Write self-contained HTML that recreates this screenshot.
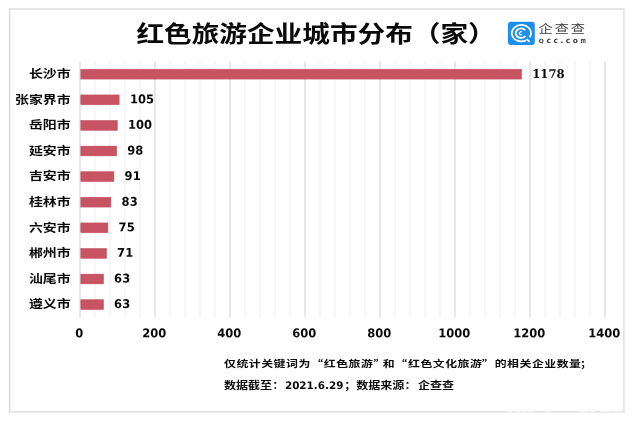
<!DOCTYPE html>
<html lang="zh-CN">
<head>
<meta charset="utf-8">
<title>红色旅游企业城市分布（家）</title>
<style>
html,body{margin:0;padding:0;background:#fff;}
body{width:635px;height:423px;overflow:hidden;position:relative;}
svg{position:absolute;left:0;top:0;display:block;}
.t{font-family:"Noto Sans CJK SC", "WenQuanYi Zen Hei", sans-serif;font-weight:700;fill:#0a0a0a;}
.n{font-family:"DejaVu Sans", "Liberation Sans", sans-serif;font-weight:700;fill:#0a0a0a;text-rendering:geometricPrecision;}
</style>
</head>
<body>
<svg width="635" height="423" viewBox="0 0 635 423">
<rect x="0" y="0" width="635" height="423" fill="#ffffff"/>
<g fill="none"><path d="M8.85 9 H624.8" stroke="#e6e6e6" stroke-width="2"/><path d="M8.85 411.8 H624.8" stroke="#e6e6e6" stroke-width="2"/><path d="M623.8 8 V412.8" stroke="#e4e4e4" stroke-width="1.8"/><path d="M9.6 8 V412.8" stroke="#dadada" stroke-width="1.5"/></g>
<g fill="#ffffff" fill-opacity="0.7"><rect x="508" y="410.3" width="4" height="1.5"/><rect x="516" y="410.3" width="4" height="1.5"/><rect x="522" y="410.3" width="4" height="1.5"/><rect x="528" y="410.3" width="5" height="1.5"/><rect x="546" y="410.3" width="4" height="1.5"/><rect x="580" y="410.3" width="8" height="1.5"/><rect x="591" y="410.3" width="4" height="1.5"/><rect x="600" y="410.3" width="9" height="1.5"/><rect x="614" y="410.3" width="4" height="1.5"/></g>
<g><line x1="80.00" y1="61.4" x2="80.00" y2="317.4" stroke="#dbdbdb" stroke-width="1.3"/><line x1="95.00" y1="61.4" x2="95.00" y2="317.4" stroke="#f1f1f1" stroke-width="1.1"/><line x1="110.00" y1="61.4" x2="110.00" y2="317.4" stroke="#f1f1f1" stroke-width="1.1"/><line x1="125.00" y1="61.4" x2="125.00" y2="317.4" stroke="#f1f1f1" stroke-width="1.1"/><line x1="140.00" y1="61.4" x2="140.00" y2="317.4" stroke="#f1f1f1" stroke-width="1.1"/><line x1="155.00" y1="61.4" x2="155.00" y2="317.4" stroke="#dbdbdb" stroke-width="1.3"/><line x1="170.00" y1="61.4" x2="170.00" y2="317.4" stroke="#f1f1f1" stroke-width="1.1"/><line x1="185.00" y1="61.4" x2="185.00" y2="317.4" stroke="#f1f1f1" stroke-width="1.1"/><line x1="200.00" y1="61.4" x2="200.00" y2="317.4" stroke="#f1f1f1" stroke-width="1.1"/><line x1="215.00" y1="61.4" x2="215.00" y2="317.4" stroke="#f1f1f1" stroke-width="1.1"/><line x1="230.00" y1="61.4" x2="230.00" y2="317.4" stroke="#dbdbdb" stroke-width="1.3"/><line x1="245.00" y1="61.4" x2="245.00" y2="317.4" stroke="#f1f1f1" stroke-width="1.1"/><line x1="260.00" y1="61.4" x2="260.00" y2="317.4" stroke="#f1f1f1" stroke-width="1.1"/><line x1="275.00" y1="61.4" x2="275.00" y2="317.4" stroke="#f1f1f1" stroke-width="1.1"/><line x1="290.00" y1="61.4" x2="290.00" y2="317.4" stroke="#f1f1f1" stroke-width="1.1"/><line x1="305.00" y1="61.4" x2="305.00" y2="317.4" stroke="#dbdbdb" stroke-width="1.3"/><line x1="320.00" y1="61.4" x2="320.00" y2="317.4" stroke="#f1f1f1" stroke-width="1.1"/><line x1="335.00" y1="61.4" x2="335.00" y2="317.4" stroke="#f1f1f1" stroke-width="1.1"/><line x1="350.00" y1="61.4" x2="350.00" y2="317.4" stroke="#f1f1f1" stroke-width="1.1"/><line x1="365.00" y1="61.4" x2="365.00" y2="317.4" stroke="#f1f1f1" stroke-width="1.1"/><line x1="380.00" y1="61.4" x2="380.00" y2="317.4" stroke="#dbdbdb" stroke-width="1.3"/><line x1="395.00" y1="61.4" x2="395.00" y2="317.4" stroke="#f1f1f1" stroke-width="1.1"/><line x1="410.00" y1="61.4" x2="410.00" y2="317.4" stroke="#f1f1f1" stroke-width="1.1"/><line x1="425.00" y1="61.4" x2="425.00" y2="317.4" stroke="#f1f1f1" stroke-width="1.1"/><line x1="440.00" y1="61.4" x2="440.00" y2="317.4" stroke="#f1f1f1" stroke-width="1.1"/><line x1="455.00" y1="61.4" x2="455.00" y2="317.4" stroke="#dbdbdb" stroke-width="1.3"/><line x1="470.00" y1="61.4" x2="470.00" y2="317.4" stroke="#f1f1f1" stroke-width="1.1"/><line x1="485.00" y1="61.4" x2="485.00" y2="317.4" stroke="#f1f1f1" stroke-width="1.1"/><line x1="500.00" y1="61.4" x2="500.00" y2="317.4" stroke="#f1f1f1" stroke-width="1.1"/><line x1="515.00" y1="61.4" x2="515.00" y2="317.4" stroke="#f1f1f1" stroke-width="1.1"/><line x1="530.00" y1="61.4" x2="530.00" y2="317.4" stroke="#dbdbdb" stroke-width="1.3"/><line x1="545.00" y1="61.4" x2="545.00" y2="317.4" stroke="#f1f1f1" stroke-width="1.1"/><line x1="560.00" y1="61.4" x2="560.00" y2="317.4" stroke="#f1f1f1" stroke-width="1.1"/><line x1="575.00" y1="61.4" x2="575.00" y2="317.4" stroke="#f1f1f1" stroke-width="1.1"/><line x1="590.00" y1="61.4" x2="590.00" y2="317.4" stroke="#f1f1f1" stroke-width="1.1"/><line x1="605.00" y1="61.4" x2="605.00" y2="317.4" stroke="#dbdbdb" stroke-width="1.3"/></g>
<rect x="80.85" y="69.35" width="440.65" height="9.70" fill="#c85463" stroke="#c24a5b" stroke-width="0.6"/>
<text class="t" transform="matrix(1.18,0.0005,0,1,70.60,78.00)" font-size="11.8" text-anchor="end">长沙市</text>
<text class="n" transform="matrix(0.965,0.0005,0,1,532.15,78.10)" font-size="12.1" style="font-family:'DejaVu Serif','Liberation Serif',serif;text-rendering:geometricPrecision">1178</text>
<rect x="80.85" y="94.95" width="38.27" height="9.70" fill="#c85463" stroke="#c24a5b" stroke-width="0.6"/>
<text class="t" transform="matrix(1.18,0.0005,0,1,70.60,103.60)" font-size="11.8" text-anchor="end">张家界市</text>
<text class="n" transform="matrix(0.96,0.0005,0,1,129.88,103.25)" font-size="12">105</text>
<rect x="80.85" y="120.55" width="36.40" height="9.70" fill="#c85463" stroke="#c24a5b" stroke-width="0.6"/>
<text class="t" transform="matrix(1.18,0.0005,0,1,70.60,129.20)" font-size="11.8" text-anchor="end">岳阳市</text>
<text class="n" transform="matrix(0.96,0.0005,0,1,128.00,128.85)" font-size="12">100</text>
<rect x="80.85" y="146.15" width="35.65" height="9.70" fill="#c85463" stroke="#c24a5b" stroke-width="0.6"/>
<text class="t" transform="matrix(1.18,0.0005,0,1,70.60,154.80)" font-size="11.8" text-anchor="end">延安市</text>
<text class="n" transform="matrix(0.96,0.0005,0,1,127.25,154.45)" font-size="12">98</text>
<rect x="80.85" y="171.75" width="33.02" height="9.70" fill="#c85463" stroke="#c24a5b" stroke-width="0.6"/>
<text class="t" transform="matrix(1.18,0.0005,0,1,70.60,180.40)" font-size="11.8" text-anchor="end">吉安市</text>
<text class="n" transform="matrix(0.96,0.0005,0,1,124.62,180.05)" font-size="12">91</text>
<rect x="80.85" y="197.35" width="30.02" height="9.70" fill="#c85463" stroke="#c24a5b" stroke-width="0.6"/>
<text class="t" transform="matrix(1.18,0.0005,0,1,70.60,206.00)" font-size="11.8" text-anchor="end">桂林市</text>
<text class="n" transform="matrix(0.96,0.0005,0,1,121.62,205.65)" font-size="12">83</text>
<rect x="80.85" y="222.95" width="27.02" height="9.70" fill="#c85463" stroke="#c24a5b" stroke-width="0.6"/>
<text class="t" transform="matrix(1.18,0.0005,0,1,70.60,231.60)" font-size="11.8" text-anchor="end">六安市</text>
<text class="n" transform="matrix(0.96,0.0005,0,1,118.62,231.25)" font-size="12">75</text>
<rect x="80.85" y="248.55" width="25.52" height="9.70" fill="#c85463" stroke="#c24a5b" stroke-width="0.6"/>
<text class="t" transform="matrix(1.18,0.0005,0,1,70.60,257.20)" font-size="11.8" text-anchor="end">郴州市</text>
<text class="n" transform="matrix(0.96,0.0005,0,1,117.12,256.85)" font-size="12">71</text>
<rect x="80.85" y="274.15" width="22.52" height="9.70" fill="#c85463" stroke="#c24a5b" stroke-width="0.6"/>
<text class="t" transform="matrix(1.18,0.0005,0,1,70.60,282.80)" font-size="11.8" text-anchor="end">汕尾市</text>
<text class="n" transform="matrix(0.96,0.0005,0,1,114.12,282.45)" font-size="12">63</text>
<rect x="80.85" y="299.75" width="22.52" height="9.70" fill="#c85463" stroke="#c24a5b" stroke-width="0.6"/>
<text class="t" transform="matrix(1.18,0.0005,0,1,70.60,308.40)" font-size="11.8" text-anchor="end">遵义市</text>
<text class="n" transform="matrix(0.96,0.0005,0,1,114.12,308.05)" font-size="12">63</text>
<text class="n" transform="matrix(0.96,0.0005,0,1,79.30,337.20)" font-size="12" text-anchor="middle">0</text>
<text class="n" transform="matrix(0.96,0.0005,0,1,154.30,337.20)" font-size="12" text-anchor="middle">200</text>
<text class="n" transform="matrix(0.96,0.0005,0,1,229.30,337.20)" font-size="12" text-anchor="middle">400</text>
<text class="n" transform="matrix(0.96,0.0005,0,1,304.30,337.20)" font-size="12" text-anchor="middle">600</text>
<text class="n" transform="matrix(0.96,0.0005,0,1,379.30,337.20)" font-size="12" text-anchor="middle">800</text>
<text class="n" transform="matrix(0.96,0.0005,0,1,454.30,337.20)" font-size="12" text-anchor="middle">1000</text>
<text class="n" transform="matrix(0.96,0.0005,0,1,529.30,337.20)" font-size="12" text-anchor="middle">1200</text>
<text class="n" transform="matrix(0.96,0.0005,0,1,604.30,337.20)" font-size="12" text-anchor="middle">1400</text>
<text class="t" transform="matrix(1.208,0.0005,0,1,136.40,41.80)" font-size="22.9">红色旅游企业城市分布（家）</text>
<text class="t" transform="matrix(1.25,0.0005,0,1,224.00,367.30)" font-size="9.5" letter-spacing="0.42">仅统计关键词为</text>
<text class="t" transform="matrix(1.25,0.0005,0,1,311.30,367.30)" font-size="9.5" letter-spacing="0.42">“</text>
<text class="t" transform="matrix(1.25,0.0005,0,1,323.80,367.30)" font-size="9.5" letter-spacing="0.42">红色旅游</text>
<text class="t" transform="matrix(1.25,0.0005,0,1,373.60,367.30)" font-size="9.5" letter-spacing="0.42">”</text>
<text class="t" transform="matrix(1.25,0.0005,0,1,382.70,367.30)" font-size="9.5" letter-spacing="0.42">和</text>
<text class="t" transform="matrix(1.25,0.0005,0,1,395.30,367.30)" font-size="9.5" letter-spacing="0.42">“</text>
<text class="t" transform="matrix(1.25,0.0005,0,1,408.00,367.30)" font-size="9.5" letter-spacing="0.42">红色文化旅游</text>
<text class="t" transform="matrix(1.25,0.0005,0,1,482.00,367.30)" font-size="9.5" letter-spacing="0.42">”</text>
<text class="t" transform="matrix(1.25,0.0005,0,1,494.70,367.30)" font-size="9.5" letter-spacing="0.42">的相关企业数量</text>
<text class="t" transform="matrix(1.25,0.0005,0,1,580.10,367.30)" font-size="9.5" letter-spacing="0.42">；</text>
<text class="t" transform="matrix(1.23,0.0005,0,1,224.00,388.60)" font-size="9.8">数据截至：</text>
<text class="n" transform="matrix(1.0,0.0005,0,1,284.90,389.05)" font-size="10.4">2021.6.29</text>
<text class="t" transform="matrix(1.23,0.0005,0,1,344.20,388.60)" font-size="9.8">；数据来源：</text>
<text class="t" transform="matrix(1.23,0.0005,0,1,418.00,388.60)" font-size="9.8">企查查</text>
<g>
<rect x="507.9" y="21.7" width="26.9" height="23.2" rx="2.9" ry="2.9" fill="#1d8fea"/>
<path d="M526.17 40.25 A9.55 8.20 0 1 1 529.67 37.25" fill="none" stroke="#ffffff" stroke-width="1.8"/>
<path d="M525.43 36.02 A5.35 4.80 0 1 1 525.32 30.24" fill="none" stroke="#ffffff" stroke-width="1.8"/>
<path d="M521.98 34.53 A1.70 1.50 0 1 1 521.98 32.07" fill="none" stroke="#ffffff" stroke-width="1.2"/>
<path d="M526.6 39.1 L529.6 41.9" fill="none" stroke="#ffffff" stroke-width="1.9"/>
</g>
<text transform="translate(538.5,33.2) scale(1.075,0.88)" font-family='"Noto Sans CJK SC DemiLight", "Noto Sans CJK SC", "WenQuanYi Zen Hei", sans-serif' font-weight="350" font-size="13.2" letter-spacing="1.82" fill="#333333">企查查</text>
<text transform="translate(538.7,43.0)" font-family='"DejaVu Sans", "Liberation Sans", sans-serif' font-weight="700" font-size="7.5" letter-spacing="2.52" fill="#3a3a3a"><tspan font-size="5.9" letter-spacing="2.85">Q</tspan>cc.co<tspan letter-spacing="0" textLength="5.4" lengthAdjust="spacingAndGlyphs">m</tspan></text>
</svg>
</body>
</html>
